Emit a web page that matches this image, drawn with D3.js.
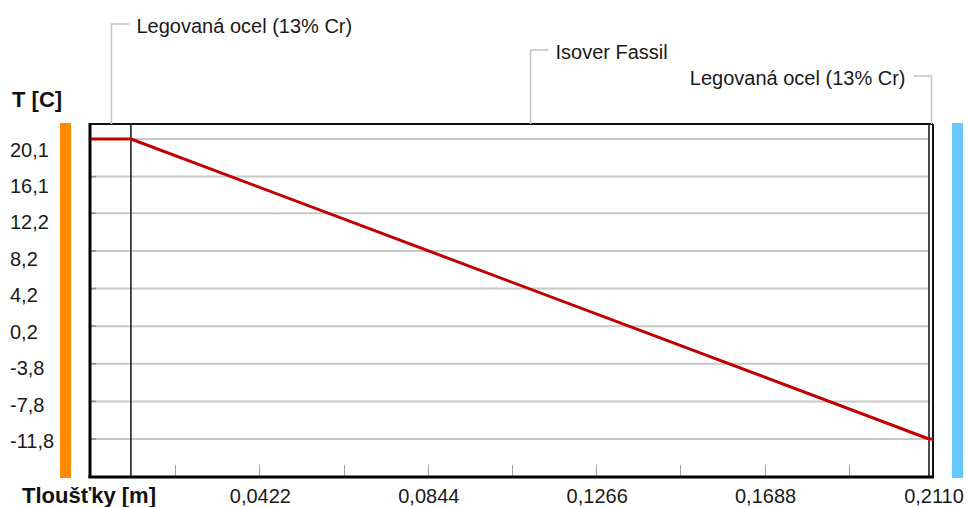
<!DOCTYPE html>
<html>
<head>
<meta charset="utf-8">
<script src="https://cdn.jsdelivr.net/npm/d3@7"></script>
<style>
  html, body { margin: 0; padding: 0; background: #fff; }
  svg { display: block; font-family: "Liberation Sans", Arial, sans-serif; }
</style>
</head>
<body>
<svg id="chart" width="968" height="507"></svg>
<script>
// Wall composition (outer -> inner), thickness in metres
const layerNames = ["Legovaná ocel (13% Cr)", "Isover Fassil", "Legovaná ocel (13% Cr)"];
const layerThickness = [0.010, 0.200, 0.001];

// Temperature profile through the wall
const profileX = [0, 0.010, 0.210, 0.211];
const profileT = [20.1, 20.1, -11.8, -11.8];

// Axis ticks
const yTickValues = [20.1, 16.1, 12.2, 8.2, 4.2, 0.2, -3.8, -7.8, -11.8];
const yTickLabels = ["20,1", "16,1", "12,2", "8,2", "4,2", "0,2", "-3,8", "-7,8", "-11,8"];
const xTickValues = [0.0422, 0.0844, 0.1266, 0.1688, 0.2110];
const xTickLabels = ["0,0422", "0,0844", "0,1266", "0,1688", "0,2110"];
const xMinorStep = 0.0211;

const yTitle = "T [C]";
const xTitle = "Tloušťky [m]";

const svg = d3.select("#chart");

const frame = { left: 91, right: 933, top: 124, bottom: 477 };
const totalThickness = d3.sum(layerThickness);

const x = d3.scaleLinear().domain([0, totalThickness]).range([frame.left, frame.right]);
const y = d3.scaleLinear().domain([-11.8, 20.1]).range([439, 139]);
const yLabel = d3.scaleLinear().domain([-11.8, 20.1]).range([448, 157]);

// Side bars: warm side (orange) and cold side (blue)
svg.append("rect").attr("x", 60).attr("y", frame.top - 1).attr("width", 11)
  .attr("height", frame.bottom - frame.top + 2).attr("fill", "#ff8a00");
svg.append("rect").attr("x", 952).attr("y", frame.top - 1).attr("width", 11)
  .attr("height", frame.bottom - frame.top + 2).attr("fill", "#66c8ff");

// Horizontal gridlines
svg.append("g").selectAll("line").data(yTickValues).join("line")
  .attr("x1", frame.left).attr("x2", x(totalThickness - layerThickness[2]))
  .attr("y1", d => y(d)).attr("y2", d => y(d))
  .attr("stroke", "#c8c8c8").attr("stroke-width", 2);

// Small marks where gridlines meet the left border
svg.append("g").selectAll("line").data(yTickValues).join("line")
  .attr("x1", frame.left).attr("x2", frame.left + 5)
  .attr("y1", d => y(d)).attr("y2", d => y(d))
  .attr("stroke", "#8c8c8c").attr("stroke-width", 1.5);

// Minor ticks on the bottom axis
const minorTicks = d3.range(1, Math.round(totalThickness / xMinorStep)).map(i => i * xMinorStep);
svg.append("g").selectAll("line").data(minorTicks).join("line")
  .attr("x1", d => Math.round(x(d)) + 0.5).attr("x2", d => Math.round(x(d)) + 0.5)
  .attr("y1", frame.bottom - 12).attr("y2", frame.bottom)
  .attr("stroke", "#a0a0a0").attr("stroke-width", 1);

// Layer boundaries
let acc = 0;
const boundaries = layerThickness.slice(0, -1).map(t => (acc += t));
svg.append("g").selectAll("line").data(boundaries).join("line")
  .attr("x1", d => x(d)).attr("x2", d => x(d))
  .attr("y1", frame.top).attr("y2", frame.bottom)
  .attr("stroke", "#111").attr("stroke-width", 1.5);

// Frame
svg.append("line").attr("x1", frame.left - 1).attr("x2", frame.right)
  .attr("y1", frame.top).attr("y2", frame.top).attr("stroke", "#111").attr("stroke-width", 2);
svg.append("line").attr("x1", frame.right).attr("x2", frame.right)
  .attr("y1", frame.top).attr("y2", frame.bottom).attr("stroke", "#111").attr("stroke-width", 2);
svg.append("line").attr("x1", frame.left - 1).attr("x2", frame.left - 1)
  .attr("y1", frame.top - 1).attr("y2", frame.bottom + 1).attr("stroke", "#000").attr("stroke-width", 3);
svg.append("line").attr("x1", frame.left - 2.5).attr("x2", frame.right + 1)
  .attr("y1", frame.bottom).attr("y2", frame.bottom).attr("stroke", "#000").attr("stroke-width", 3);

// Temperature profile
const line = d3.line().x(d => x(d[0])).y(d => y(d[1]));
svg.append("path")
  .datum(profileX.map((v, i) => [v, profileT[i]]))
  .attr("d", line)
  .attr("fill", "none").attr("stroke", "#c00000").attr("stroke-width", 3)
  .attr("stroke-linejoin", "round");

// Layer callouts
let start = 0;
const callouts = layerThickness.map((t, i) => {
  const mid = start + t / 2;
  start += t;
  return { name: layerNames[i], mid, level: i };
});
const calloutG = svg.append("g");
callouts.forEach(c => {
  const cx = Math.round(x(c.mid)) + 0.5;
  const ly = 24 + c.level * 26;
  const rightSide = c.level === callouts.length - 1;
  const hx = rightSide ? cx - 18 : cx + 18;
  calloutG.append("polyline")
    .attr("points", `${cx},${frame.top} ${cx},${ly} ${hx},${ly}`)
    .attr("fill", "none").attr("stroke", "#c4c4c4").attr("stroke-width", 1.5);
  calloutG.append("text")
    .attr("x", rightSide ? hx - 8 : hx + 7).attr("y", ly + 9)
    .attr("text-anchor", rightSide ? "end" : "start")
    .attr("font-size", 20).attr("fill", "#1a1a1a")
    .text(c.name);
});

// Y labels
svg.append("g").selectAll("text").data(yTickValues).join("text")
  .attr("x", 10).attr("y", d => yLabel(d))
  .attr("font-size", 20).attr("fill", "#1a1a1a")
  .text((d, i) => yTickLabels[i]);

// X labels
svg.append("g").selectAll("text").data(xTickValues).join("text")
  .attr("x", d => x(d) + 1).attr("y", 503)
  .attr("text-anchor", "middle")
  .attr("font-size", 20).attr("fill", "#1a1a1a")
  .text((d, i) => xTickLabels[i]);

// Axis titles
svg.append("text").attr("x", 12).attr("y", 107)
  .attr("font-size", 22).attr("font-weight", "bold").attr("fill", "#111")
  .text(yTitle);
svg.append("text").attr("x", 22).attr("y", 503)
  .attr("font-size", 22).attr("font-weight", "bold").attr("fill", "#111")
  .text(xTitle);
</script>
</body>
</html>
